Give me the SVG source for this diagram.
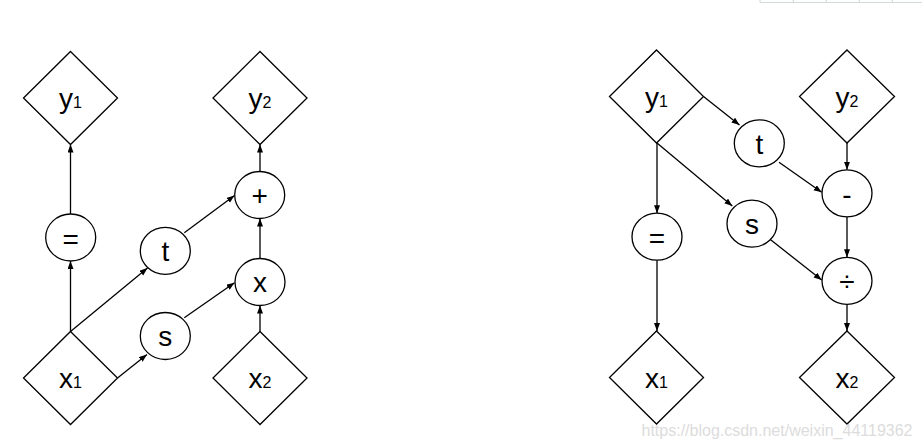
<svg xmlns="http://www.w3.org/2000/svg" width="922" height="448" viewBox="0 0 922 448">
<style>
.n{fill:#fff;stroke:#000;stroke-width:1.3}
.e{fill:none;stroke:#000;stroke-width:1.3;marker-end:url(#ah)}
.t{font-family:"Liberation Sans",Arial,sans-serif;font-size:28px;fill:#000;text-anchor:middle}
.s{font-size:16px}
.wm{font-family:"Liberation Sans",Arial,sans-serif;font-size:16px;fill:#dcdcdc}
.tb{stroke:#d3dcda;stroke-width:1.2;fill:none}
</style>
<defs>
<marker id="ah" markerUnits="userSpaceOnUse" markerWidth="9" markerHeight="7" refX="8" refY="3" orient="auto">
<path d="M0,0 L8,3 L0,6 z" fill="#000"/>
</marker>
</defs>
<rect width="922" height="448" fill="#fff"/>
<g id="table-edge">
<path class="tb" d="M760,2.5 H922 M760,0 V2.5 M793.3,0 V2.5 M826.3,0 V2.5 M859.3,0 V2.5 M892.3,0 V2.5"/>
</g>
<g id="connectors">
<line class="e" x1="70.5" y1="214" x2="70.5" y2="144.5"/>
<line class="e" x1="70.5" y1="331.5" x2="70.5" y2="261"/>
<line class="e" x1="70.5" y1="331.5" x2="147.5" y2="268"/>
<line class="e" x1="117.5" y1="378" x2="147" y2="354.5"/>
<line class="e" x1="184.3" y1="317.7" x2="234.5" y2="282.7"/>
<line class="e" x1="184.3" y1="232.7" x2="234.5" y2="195.5"/>
<line class="e" x1="260" y1="258.5" x2="260" y2="218.5"/>
<line class="e" x1="260" y1="331.5" x2="260" y2="305.5"/>
<line class="e" x1="260" y1="171.5" x2="260" y2="144.5"/>
<line class="e" x1="703.5" y1="96.5" x2="739.5" y2="125"/>
<line class="e" x1="657" y1="143" x2="657" y2="213.2"/>
<line class="e" x1="657" y1="143" x2="732.3" y2="206"/>
<line class="e" x1="779" y1="162.3" x2="821.7" y2="192.3"/>
<line class="e" x1="847" y1="143" x2="847" y2="169.8"/>
<line class="e" x1="847" y1="216.8" x2="847" y2="257.3"/>
<line class="e" x1="770" y1="239.3" x2="821.7" y2="280"/>
<line class="e" x1="847" y1="304.3" x2="847" y2="331"/>
<line class="e" x1="657" y1="260.2" x2="657" y2="331"/>
</g>
<g id="L-y1"><polygon class="n" points="70.5,51.5 117.5,98 70.5,144.5 23.5,98"/><text class="t" x="70.5" y="108">y<tspan class="s">1</tspan></text></g>
<g id="L-y2"><polygon class="n" points="260,51.5 307,98 260,144.5 213,98"/><text class="t" x="260" y="108">y<tspan class="s">2</tspan></text></g>
<g id="L-eq"><ellipse class="n" cx="70.7" cy="237.5" rx="25" ry="23.5"/><text class="t" x="70.7" y="249">=</text></g>
<g id="L-t"><ellipse class="n" cx="165.3" cy="250.8" rx="25" ry="23.5"/><text class="t" x="165.3" y="261">t</text></g>
<g id="L-plus"><ellipse class="n" cx="259.7" cy="195" rx="25" ry="23.5"/><text class="t" x="259.7" y="205.2">+</text></g>
<g id="L-s"><ellipse class="n" cx="165.3" cy="336" rx="25" ry="23.5"/><text class="t" x="165.3" y="346.3">s</text></g>
<g id="L-x"><ellipse class="n" cx="260" cy="282" rx="25" ry="23.5"/><text class="t" x="260" y="292.3">x</text></g>
<g id="L-x1"><polygon class="n" points="70.5,331.5 117.5,378 70.5,424.5 23.5,378"/><text class="t" x="70.5" y="388">x<tspan class="s">1</tspan></text></g>
<g id="L-x2"><polygon class="n" points="260,331.5 307,378 260,424.5 213,378"/><text class="t" x="260" y="388">x<tspan class="s">2</tspan></text></g>
<g id="R-y1"><polygon class="n" points="656.5,50 703.5,96.5 656.5,143 609.5,96.5"/><text class="t" x="656.5" y="106.5">y<tspan class="s">1</tspan></text></g>
<g id="R-y2"><polygon class="n" points="847,50 894.5,96.5 847,143 799.5,96.5"/><text class="t" x="847" y="106.5">y<tspan class="s">2</tspan></text></g>
<g id="R-t"><ellipse class="n" cx="759.3" cy="143.3" rx="25" ry="23.5"/><text class="t" x="759.3" y="153.5">t</text></g>
<g id="R-minus"><ellipse class="n" cx="847" cy="193.3" rx="25" ry="23.5"/><text class="t" x="847" y="204.3">-</text></g>
<g id="R-s"><ellipse class="n" cx="752" cy="223.7" rx="25" ry="23.5"/><text class="t" x="752" y="234">s</text></g>
<g id="R-eq"><ellipse class="n" cx="657" cy="236.7" rx="25" ry="23.5"/><text class="t" x="657" y="248.2">=</text></g>
<g id="R-div"><ellipse class="n" cx="847" cy="280.8" rx="25" ry="23.5"/><text class="t" x="847" y="290.8">÷</text></g>
<g id="R-x1"><polygon class="n" points="656.5,331 703.5,377.5 656.5,424 609.5,377.5"/><text class="t" x="656.5" y="387.5">x<tspan class="s">1</tspan></text></g>
<g id="R-x2"><polygon class="n" points="847,331 894.5,377.5 847,424 799.5,377.5"/><text class="t" x="847" y="387.5">x<tspan class="s">2</tspan></text></g>
<text class="wm" x="641.5" y="436">https://blog.csdn.net/weixin_44119362</text>
</svg>
